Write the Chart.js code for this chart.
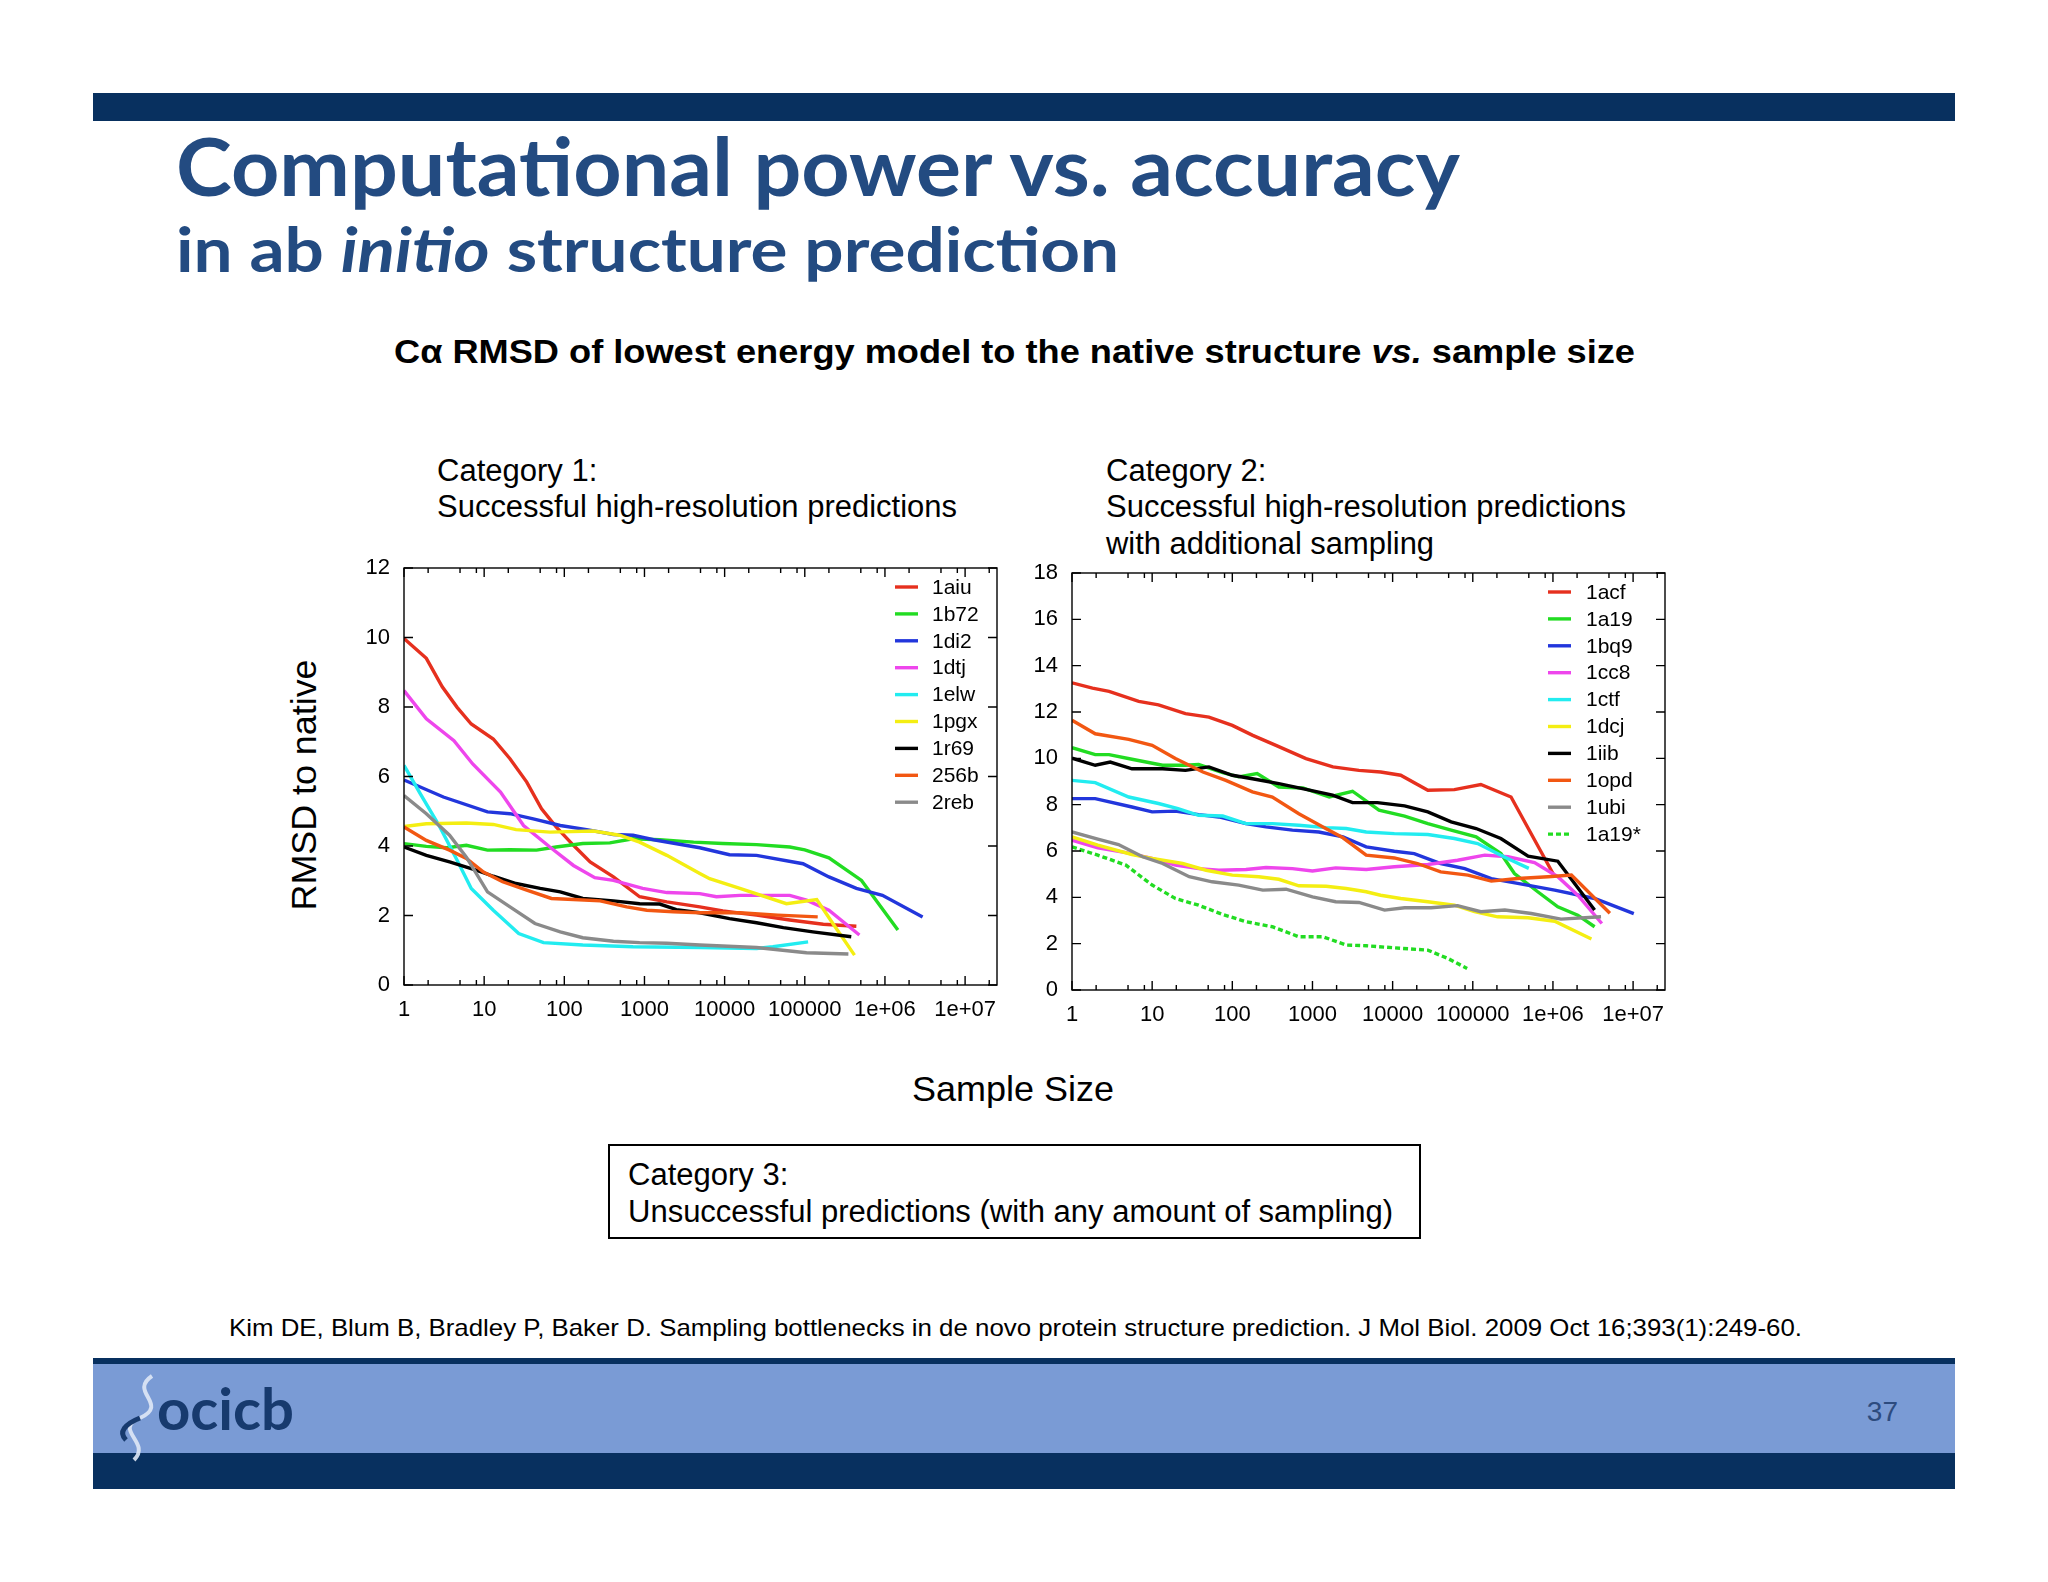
<!DOCTYPE html>
<html><head><meta charset="utf-8">
<script src="https://cdn.jsdelivr.net/npm/chart.js@4.4.1/dist/chart.umd.min.js"></script>
<style>
html,body{margin:0;padding:0;background:#fff;}
#stage{position:relative;width:2048px;height:1582px;overflow:hidden;background:#fff;}
#stage svg{position:absolute;left:0;top:0;}
.cv{position:absolute;}
</style></head>
<body>
<div id="stage">
<svg width="2048" height="1582" xmlns="http://www.w3.org/2000/svg">
  <rect x="93" y="93" width="1862" height="28" fill="#08305f"/>
  <text x="176" y="196" font-family="Lato" font-weight="700" font-size="80" fill="#234b81" textLength="1284" lengthAdjust="spacingAndGlyphs">Computational power vs. accuracy</text>
  <text x="176" y="272" font-family="Lato" font-weight="700" font-size="62" fill="#234b81" textLength="943" lengthAdjust="spacingAndGlyphs">in ab <tspan font-style="italic">initio</tspan> structure prediction</text>
  <text x="394" y="363" font-family="Liberation Sans" font-weight="700" font-size="34" fill="#000" textLength="1241" lengthAdjust="spacingAndGlyphs">Cα RMSD of lowest energy model to the native structure <tspan font-style="italic">vs.</tspan> sample size</text>
  <g font-family="Liberation Sans" font-size="31" fill="#000">
    <text x="437" y="481">Category 1:</text>
    <text x="437" y="517" textLength="520" lengthAdjust="spacingAndGlyphs">Successful high-resolution predictions</text>
    <text x="1106" y="481">Category 2:</text>
    <text x="1106" y="517" textLength="520" lengthAdjust="spacingAndGlyphs">Successful high-resolution predictions</text>
    <text x="1106" y="554" textLength="328" lengthAdjust="spacingAndGlyphs">with additional sampling</text>
    <text x="628" y="1185">Category 3:</text>
    <text x="628" y="1222" textLength="765" lengthAdjust="spacingAndGlyphs">Unsuccessful predictions (with any amount of sampling)</text>
  </g>
  <text transform="translate(316,785) rotate(-90)" text-anchor="middle" font-family="Liberation Sans" font-size="35" fill="#000" textLength="251" lengthAdjust="spacingAndGlyphs">RMSD to native</text>
  <text x="1013" y="1101" text-anchor="middle" font-family="Liberation Sans" font-size="35" fill="#000" textLength="202" lengthAdjust="spacingAndGlyphs">Sample Size</text>
  <rect x="609" y="1145" width="811" height="93" fill="none" stroke="#000" stroke-width="2"/>
  <text x="229" y="1336" font-family="Liberation Sans" font-size="24" fill="#000" textLength="1573" lengthAdjust="spacingAndGlyphs">Kim DE, Blum B, Bradley P, Baker D. Sampling bottlenecks in de novo protein structure prediction. J Mol Biol. 2009 Oct 16;393(1):249-60.</text>
  <rect x="93" y="1358" width="1862" height="6" fill="#08305f"/>
  <rect x="93" y="1364" width="1862" height="89" fill="#7a9bd5"/>
  <rect x="93" y="1453" width="1862" height="36" fill="#08305f"/>
  <text x="1898" y="1421" text-anchor="end" font-family="Liberation Sans" font-size="28" fill="#2d4b7e">37</text>
  <path d="M152,1376 C128,1392 170,1404 140,1418 C112,1430 152,1442 134,1460" fill="none" stroke="#dfe8f6" stroke-width="4" opacity="0.9"/>
  <path d="M140,1418 C125,1424 118,1432 126,1440" fill="none" stroke="#173a6e" stroke-width="5"/>
  <text x="157" y="1430" font-family="Lato" font-weight="700" font-size="58" fill="#173a6e" textLength="137" lengthAdjust="spacingAndGlyphs">ocicb</text>
</svg>
<canvas id="c1" class="cv" width="680" height="500" style="left:340px;top:540px;width:680px;height:500px"></canvas>
<canvas id="c2" class="cv" width="680" height="500" style="left:1010px;top:545px;width:680px;height:500px"></canvas>
</div>
<script>
// ---------- axis ticks ----------
const xTickValues = [1, 10, 100, 1000, 10000, 100000, 1000000, 10000000];
const xTickLabels = ['1', '10', '100', '1000', '10000', '100000', '1e+06', '1e+07'];
const xMinorFactors = [2, 5, 8];
const leftYTicks = [0, 2, 4, 6, 8, 10, 12];
const rightYTicks = [0, 2, 4, 6, 8, 10, 12, 14, 16, 18];

// ---------- Category 1 (left panel) ----------
const x_1aiu = [1,1.9,3,4.6,6.9,13,21,34,52,79,130,210,410,870,1900,4900,9500,25000,65000,170000,440000];
const y_1aiu = [9.97,9.40,8.58,7.99,7.51,7.08,6.51,5.84,5.07,4.55,4.02,3.54,3.11,2.54,2.39,2.25,2.13,2.01,1.87,1.75,1.69];
const x_1b72 = [1,1.9,3.4,6,11,21,45,79,170,370,720,1550,4100,9500,25000,65000,100000,200000,510000,1450000];
const y_1b72 = [4.07,3.99,3.95,4.02,3.88,3.89,3.88,3.97,4.07,4.09,4.21,4.18,4.11,4.07,4.04,3.97,3.89,3.66,3.01,1.58];
const x_1di2 = [1,3.1,11,21,41,89,190,410,720,1300,4900,11500,25000,95000,200000,440000,930000,2950000];
const y_1di2 = [5.90,5.41,4.98,4.93,4.78,4.59,4.47,4.33,4.31,4.18,3.95,3.75,3.73,3.49,3.11,2.78,2.58,1.96];
const x_1dtj = [1,1.9,4.2,7.2,16,31,66,130,240,410,950,1900,4900,7900,15500,65000,105000,200000,480000];
const y_1dtj = [8.47,7.66,7.03,6.36,5.55,4.59,3.97,3.44,3.09,3.01,2.78,2.66,2.63,2.54,2.58,2.58,2.44,2.15,1.44];
const x_1elw = [1,1.6,2.8,4.6,6.9,13,27,55,170,720,4900,25000,40000,110000];
const y_1elw = [6.32,5.50,4.55,3.59,2.78,2.15,1.48,1.22,1.15,1.10,1.08,1.05,1.10,1.24];
const x_1pgx = [1,1.9,6,13,25,66,230,490,870,1900,4900,6500,15500,59000,141000,224000,417000];
const y_1pgx = [4.56,4.64,4.66,4.62,4.47,4.40,4.43,4.31,4.11,3.73,3.21,3.06,2.78,2.34,2.46,1.77,0.86];
const x_1r69 = [1,1.9,3.7,8.1,13,25,50,89,170,410,870,1550,2500,4900,11500,25000,54000,126000,380000];
const y_1r69 = [3.97,3.73,3.54,3.30,3.13,2.92,2.78,2.68,2.49,2.42,2.34,2.33,2.17,2.08,1.91,1.79,1.65,1.53,1.39];
const x_256b = [1,1.9,3.7,6,9.8,17,34,69,130,280,600,1070,2300,4900,15500,46000,145000];
const y_256b = [4.55,4.16,3.88,3.64,3.25,2.97,2.73,2.49,2.46,2.42,2.25,2.15,2.11,2.08,2.08,2.01,1.96];
const x_2reb = [1,1.9,3.7,6,11,21,43,89,170,410,870,1900,4900,25000,105000,350000];
const y_2reb = [5.45,4.93,4.31,3.68,2.68,2.25,1.77,1.53,1.36,1.26,1.22,1.20,1.15,1.08,0.93,0.89];

// ---------- Category 2 (right panel) ----------
const x_1acf = [1,1.8,2.9,6.8,12,26,51,100,180,350,830,1800,3800,7100,12600,27500,59000,126000,300000,1050000];
const y_1acf = [13.26,13.03,12.89,12.46,12.31,11.93,11.78,11.42,10.99,10.56,9.99,9.63,9.48,9.41,9.27,8.62,8.65,8.87,8.33,4.9];
const x_1a19 = [1,1.95,2.9,5.6,13.5,26,38,76,120,204,380,760,1620,3160,6760,14100,27500,53700,110000,224000,331000,646000,1150000,2040000,3310000];
const y_1a19 = [10.46,10.16,10.16,9.96,9.70,9.70,9.73,9.38,9.20,9.34,8.76,8.72,8.33,8.58,7.76,7.51,7.18,6.90,6.61,5.89,5.03,4.24,3.59,3.23,2.73];
const x_1bq9 = [1,1.95,5.6,10,19.5,38,68,148,263,562,1200,2400,4680,10500,18600,39800,79400,170000,363000,1050000,3310000,10200000];
const y_1bq9 = [8.26,8.26,7.90,7.69,7.72,7.57,7.47,7.18,7.04,6.90,6.82,6.61,6.18,5.99,5.89,5.46,5.24,4.81,4.60,4.31,3.95,3.30];
const x_1cc8 = [1,2.1,4.7,10,19.5,38,68,148,263,562,1000,1950,4680,10500,27500,64600,141000,275000,589000,1150000,2040000,4070000];
const y_1cc8 = [6.47,6.14,5.93,5.68,5.39,5.24,5.17,5.20,5.29,5.24,5.14,5.27,5.20,5.32,5.42,5.60,5.82,5.75,5.50,4.89,4.09,2.87];
const x_1ctf = [1,1.95,5.1,12,21,38,76,148,316,676,1480,2630,4680,10500,27500,58900,115000,224000,302000,500000];
const y_1ctf = [9.05,8.95,8.33,8.05,7.83,7.54,7.51,7.18,7.18,7.11,7.01,6.97,6.82,6.75,6.71,6.54,6.32,5.82,5.60,5.25];
const x_1dcj = [1,2.1,5.6,10,24,47,100,214,380,676,1480,2630,4680,7080,12600,27500,58900,105000,204000,490000,1050000,3020000];
const y_1dcj = [6.61,6.25,5.85,5.68,5.46,5.17,4.96,4.89,4.78,4.50,4.48,4.38,4.24,4.09,3.95,3.81,3.66,3.38,3.16,3.12,2.97,2.20];
const x_1iib = [1,1.95,3,5.6,13.5,26,51,100,178,380,830,1780,3160,6460,14100,27500,53700,110000,224000,490000,1150000,3310000];
const y_1iib = [10.01,9.70,9.84,9.55,9.55,9.48,9.63,9.27,9.12,8.91,8.66,8.41,8.09,8.09,7.95,7.69,7.26,6.97,6.54,5.78,5.56,3.45];
const x_1opd = [1,1.95,5.1,10,19.5,43,83,178,316,676,1350,2400,4680,10500,20400,39800,87100,170000,363000,870000,1700000,5130000];
const y_1opd = [11.64,11.06,10.82,10.56,9.99,9.41,9.05,8.55,8.33,7.61,7.04,6.57,5.82,5.70,5.46,5.10,4.96,4.70,4.81,4.89,4.96,3.31];
const x_1ubi = [1,2.1,3.8,7.6,13.5,29,56,120,240,468,1000,1950,3800,7940,14100,30200,64600,126000,251000,537000,1260000,3980000];
const y_1ubi = [6.82,6.51,6.28,5.75,5.46,4.89,4.67,4.53,4.31,4.35,4.02,3.81,3.78,3.45,3.55,3.55,3.64,3.38,3.45,3.30,3.06,3.16];
const x_1a19s = [1,2.1,4.7,10,19.5,38,76,148,316,676,1350,2630,4680,10500,27500,49000,85000];
const y_1a19s = [6.18,5.82,5.39,4.53,3.95,3.66,3.26,2.95,2.73,2.30,2.30,1.94,1.91,1.82,1.72,1.36,0.93];

// ---------- colours ----------
const RED = '#e6301e', GREEN = '#22dc22', BLUE = '#2236dc', MAGENTA = '#ee46ec',
      CYAN = '#22ecf0', YELLOW = '#f4ee12', BLACK = '#000000', ORANGE = '#f25712', GRAY = '#8a8a8a';

function ds(label, xs, ys, color, dash) {
  return {
    label: label,
    data: xs.map((x, i) => ({ x: x, y: ys[i] })),
    borderColor: color,
    backgroundColor: color,
    borderWidth: 3.4,
    borderDash: dash || [],
    pointRadius: 0,
    fill: false,
    tension: 0
  };
}

const leftSets = [
  ds('1aiu', x_1aiu, y_1aiu, RED),
  ds('1b72', x_1b72, y_1b72, GREEN),
  ds('1di2', x_1di2, y_1di2, BLUE),
  ds('1dtj', x_1dtj, y_1dtj, MAGENTA),
  ds('1elw', x_1elw, y_1elw, CYAN),
  ds('1pgx', x_1pgx, y_1pgx, YELLOW),
  ds('1r69', x_1r69, y_1r69, BLACK),
  ds('256b', x_256b, y_256b, ORANGE),
  ds('2reb', x_2reb, y_2reb, GRAY)
];
const rightSets = [
  ds('1acf', x_1acf, y_1acf, RED),
  ds('1a19', x_1a19, y_1a19, GREEN),
  ds('1bq9', x_1bq9, y_1bq9, BLUE),
  ds('1cc8', x_1cc8, y_1cc8, MAGENTA),
  ds('1ctf', x_1ctf, y_1ctf, CYAN),
  ds('1dcj', x_1dcj, y_1dcj, YELLOW),
  ds('1iib', x_1iib, y_1iib, BLACK),
  ds('1opd', x_1opd, y_1opd, ORANGE),
  ds('1ubi', x_1ubi, y_1ubi, GRAY),
  ds('1a19*', x_1a19s, y_1a19s, GREEN, [5, 3])
];
// later series drawn on top (gnuplot order)
leftSets.forEach((d, i) => d.order = -i);
rightSets.forEach((d, i) => d.order = -i);

const gnuFrame = {
  id: 'gnuFrame',
  afterDatasetsDraw(chart, args, opts) {
    const ctx = chart.ctx, a = chart.chartArea, xs = chart.scales.x, ys = chart.scales.y;
    ctx.save();
    ctx.strokeStyle = '#000';
    ctx.lineWidth = 1.4;
    ctx.setLineDash([]);
    ctx.strokeRect(a.left, a.top, a.right - a.left, a.bottom - a.top);
    ctx.beginPath();
    const MJ = 9, MN = 5;
    opts.yTicks.forEach(v => {
      const p = ys.getPixelForValue(v);
      ctx.moveTo(a.left, p); ctx.lineTo(a.left + MJ, p);
      ctx.moveTo(a.right, p); ctx.lineTo(a.right - MJ, p);
    });
    xTickValues.forEach(v => {
      const p = xs.getPixelForValue(v);
      ctx.moveTo(p, a.bottom); ctx.lineTo(p, a.bottom - MJ);
      ctx.moveTo(p, a.top); ctx.lineTo(p, a.top + MJ);
      xMinorFactors.forEach(f => {
        const m = v * f;
        if (m < xs.max) {
          const q = xs.getPixelForValue(m);
          ctx.moveTo(q, a.bottom); ctx.lineTo(q, a.bottom - MN);
          ctx.moveTo(q, a.top); ctx.lineTo(q, a.top + MN);
        }
      });
    });
    ctx.stroke();
    // legend inside plot, top-right
    const L = opts.legend;
    ctx.font = L.font;
    ctx.textBaseline = 'middle';
    ctx.textAlign = 'left';
    chart.data.datasets.forEach((d, i) => {
      const yy = a.top + L.top + i * L.step;
      ctx.beginPath();
      ctx.strokeStyle = d.borderColor;
      ctx.lineWidth = d.borderWidth;
      ctx.setLineDash(d.borderDash || []);
      ctx.moveTo(a.right + L.lineStart, yy);
      ctx.lineTo(a.right + L.lineEnd, yy);
      ctx.stroke();
      ctx.setLineDash([]);
      ctx.fillStyle = '#000';
      ctx.fillText(d.label, a.right + L.textX, yy + 1);
    });
    ctx.restore();
  }
};

function build(id, sets, yTicks, yMax, yWidth, pad, legend) {
  return new Chart(document.getElementById(id), {
    type: 'line',
    data: { datasets: sets },
    plugins: [gnuFrame],
    options: {
      responsive: false,
      animation: false,
      devicePixelRatio: 1,
      layout: { padding: pad },
      plugins: {
        legend: { display: false },
        tooltip: { enabled: false },
        gnuFrame: { yTicks: yTicks, legend: legend }
      },
      scales: {
        x: {
          type: 'logarithmic',
          min: 1, max: 2.5e7,
          grid: { display: false, drawTicks: false },
          border: { display: false },
          afterBuildTicks: s => { s.ticks = xTickValues.map(v => ({ value: v })); },
          afterFit: s => { s.height = 55; },
          ticks: {
            autoSkip: false, maxRotation: 0, minRotation: 0, padding: 12,
            color: '#000', font: { family: 'Liberation Sans', size: 22 },
            callback: (v, i) => xTickLabels[i]
          }
        },
        y: {
          type: 'linear',
          min: 0, max: yMax,
          grid: { display: false, drawTicks: false },
          border: { display: false },
          afterBuildTicks: s => { s.ticks = yTicks.map(v => ({ value: v })); },
          afterFit: s => { s.width = yWidth; },
          ticks: {
            padding: 14, color: '#000',
            font: { family: 'Liberation Sans', size: 22 },
            callback: v => String(v)
          }
        }
      }
    }
  });
}

build('c1', leftSets, leftYTicks, 12, 64, { top: 28, right: 23, left: 0, bottom: 0 },
  { lineStart: -102, lineEnd: -79, textX: -65, top: 19, step: 26.9, font: '21px "Liberation Sans"' });
build('c2', rightSets, rightYTicks, 18, 62, { top: 28, right: 25, left: 0, bottom: 0 },
  { lineStart: -117, lineEnd: -94, textX: -79, top: 19, step: 26.9, font: '21px "Liberation Sans"' });
</script>
</body></html>
